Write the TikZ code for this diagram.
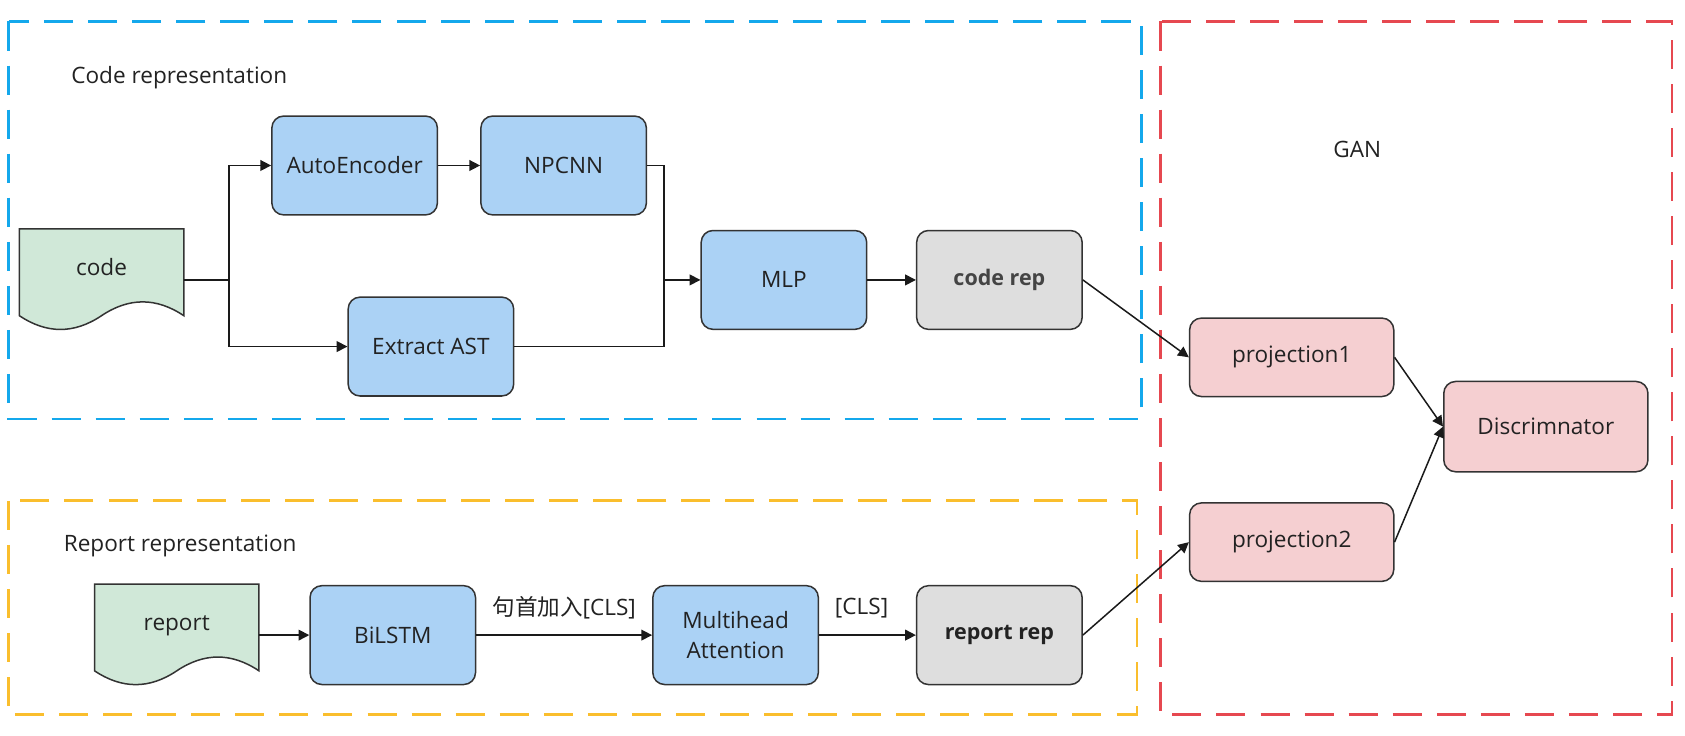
\documentclass[tikz,border=0pt]{standalone}
\usepackage{fontspec}
\setmainfont{Open Sans}
\newfontfamily\cjkfont{Noto Sans CJK SC}
\usetikzlibrary{arrows.meta,positioning,calc}
\definecolor{txt}{RGB}{34,34,34}
\definecolor{boxline}{RGB}{51,51,51}
\definecolor{lineC}{RGB}{26,26,26}
\definecolor{blueF}{RGB}{171,210,245}
\definecolor{grayF}{RGB}{222,222,222}
\definecolor{greenF}{RGB}{208,232,216}
\definecolor{pinkF}{RGB}{245,207,209}
\definecolor{blueZ}{RGB}{20,168,236}
\definecolor{redZ}{RGB}{230,72,80}
\definecolor{orangeZ}{RGB}{250,190,45}
\begin{document}
\begin{tikzpicture}[x=0.5pt, y=-0.5pt,
		font=\fontsize{10.5}{14}\selectfont,
		box/.style={draw=boxline, line width=0.7pt, rounded corners=5.5pt, minimum width=77pt, minimum height=46pt, inner sep=2pt, align=center, text=txt},
		bluebox/.style={box, fill=blueF},
		graybox/.style={box, fill=grayF, font=\bfseries\fontsize{10}{12}\selectfont},
		pinkbox/.style={box, fill=pinkF, minimum width=95pt, minimum height=36.5pt},
		docnode/.style={minimum width=76.5pt, minimum height=47.5pt, text height=8pt, text depth=12pt, inner sep=0pt, text=txt},
		docline/.style={draw=boxline, line width=0.7pt, fill=greenF},
		title/.style={anchor=west, inner sep=0pt, text=txt},
		zone/.style={line width=1.25pt, dash pattern=on 13.5pt off 7pt},
		arr/.style={-{Triangle[length=5pt,width=5pt]}, line width=0.7pt, draw=lineC}]
			\useasboundingbox (0,0) rectangle (1568,684);
			\draw [zone, blueZ] (8,20) rectangle (1062,390);
			\draw [zone, orangeZ] (8,466) rectangle (1058,665);
			\draw [zone, redZ] (1080,20) rectangle (1556,665);
			\foreach \x/\y in {18/213, 88/543.5}
				\draw [docline, shift={(\x,\y)}] (0,0) -- (153,0) -- (153,80.75)
					.. controls (127.5,63.65) and (102,63.65) .. (76.5,80.75)
					.. controls (51,97.85) and (25.5,97.85) .. (0,80.75) -- cycle;
			\node [title] (codetitle) at (66,72) {Code representation};
			\node [title] (reporttitle) at (59,508) {Report representation};
			\node [text=txt] (gantitle) at (1263,139) {GAN};
			\node [docnode] (code) at (94.5,260.5) {code};
			\node [bluebox] (autoenc) at (330,154) {AutoEncoder};
			\node [bluebox] (npcnn) at (524.5,154) {NPCNN};
			\node [bluebox] (ast) at (401,322.5) {Extract AST};
			\node [bluebox] (mlp) at (729.5,260.5) {MLP};
			\node [graybox, text={rgb,255:red,68;green,68;blue,68}] (coderep) at (930,260.5) {code rep};
			\node [docnode] (report) at (164.5,591) {report};
			\node [bluebox] (bilstm) at (365.5,591) {BiLSTM};
			\node [bluebox] (mha) at (684.5,591) {Multihead\\Attention};
			\node [graybox] (reportrep) at (930,591) {report rep};
			\node [pinkbox] (proj1) at (1202,332.5) {projection1};
			\node [pinkbox] (proj2) at (1202,504.5) {projection2};
			\node [pinkbox, minimum height=42pt] (disc) at (1438.5,397) {Discrimnator};
			\coordinate (split) at (213,260.5);
			\coordinate (merge) at (618,260.5);
			\draw [arr, -] (code.east) to (split);
			\draw [arr] (split) |- (autoenc.west);
			\draw [arr] (split) |- (ast.west);
			\draw [arr] (autoenc) to (npcnn);
			\draw [arr, -] (npcnn.east) -| (merge);
			\draw [arr, -] (ast.east) -| (merge);
			\draw [arr] (merge) to (mlp.west);
			\draw [arr] (mlp) to (coderep);
			\draw [arr] (report.east) to (bilstm.west);
			\draw [arr] (bilstm) to node [midway, yshift=12.5pt, text=txt] (clsadd) {{\cjkfont 句首加入}[CLS]} (mha);
			\draw [arr] (mha) to node [midway, xshift=-2.75pt, yshift=12.5pt, text=txt] (cls) {[CLS]} (reportrep);
			\draw [arr] (coderep.east) to (proj1.west);
			\draw [arr] (reportrep.east) to (proj2.west);
			\draw [arr] (proj1.east) to (disc.west);
			\draw [arr] (proj2.east) to (disc.west);
			\end{tikzpicture}
\end{document}
